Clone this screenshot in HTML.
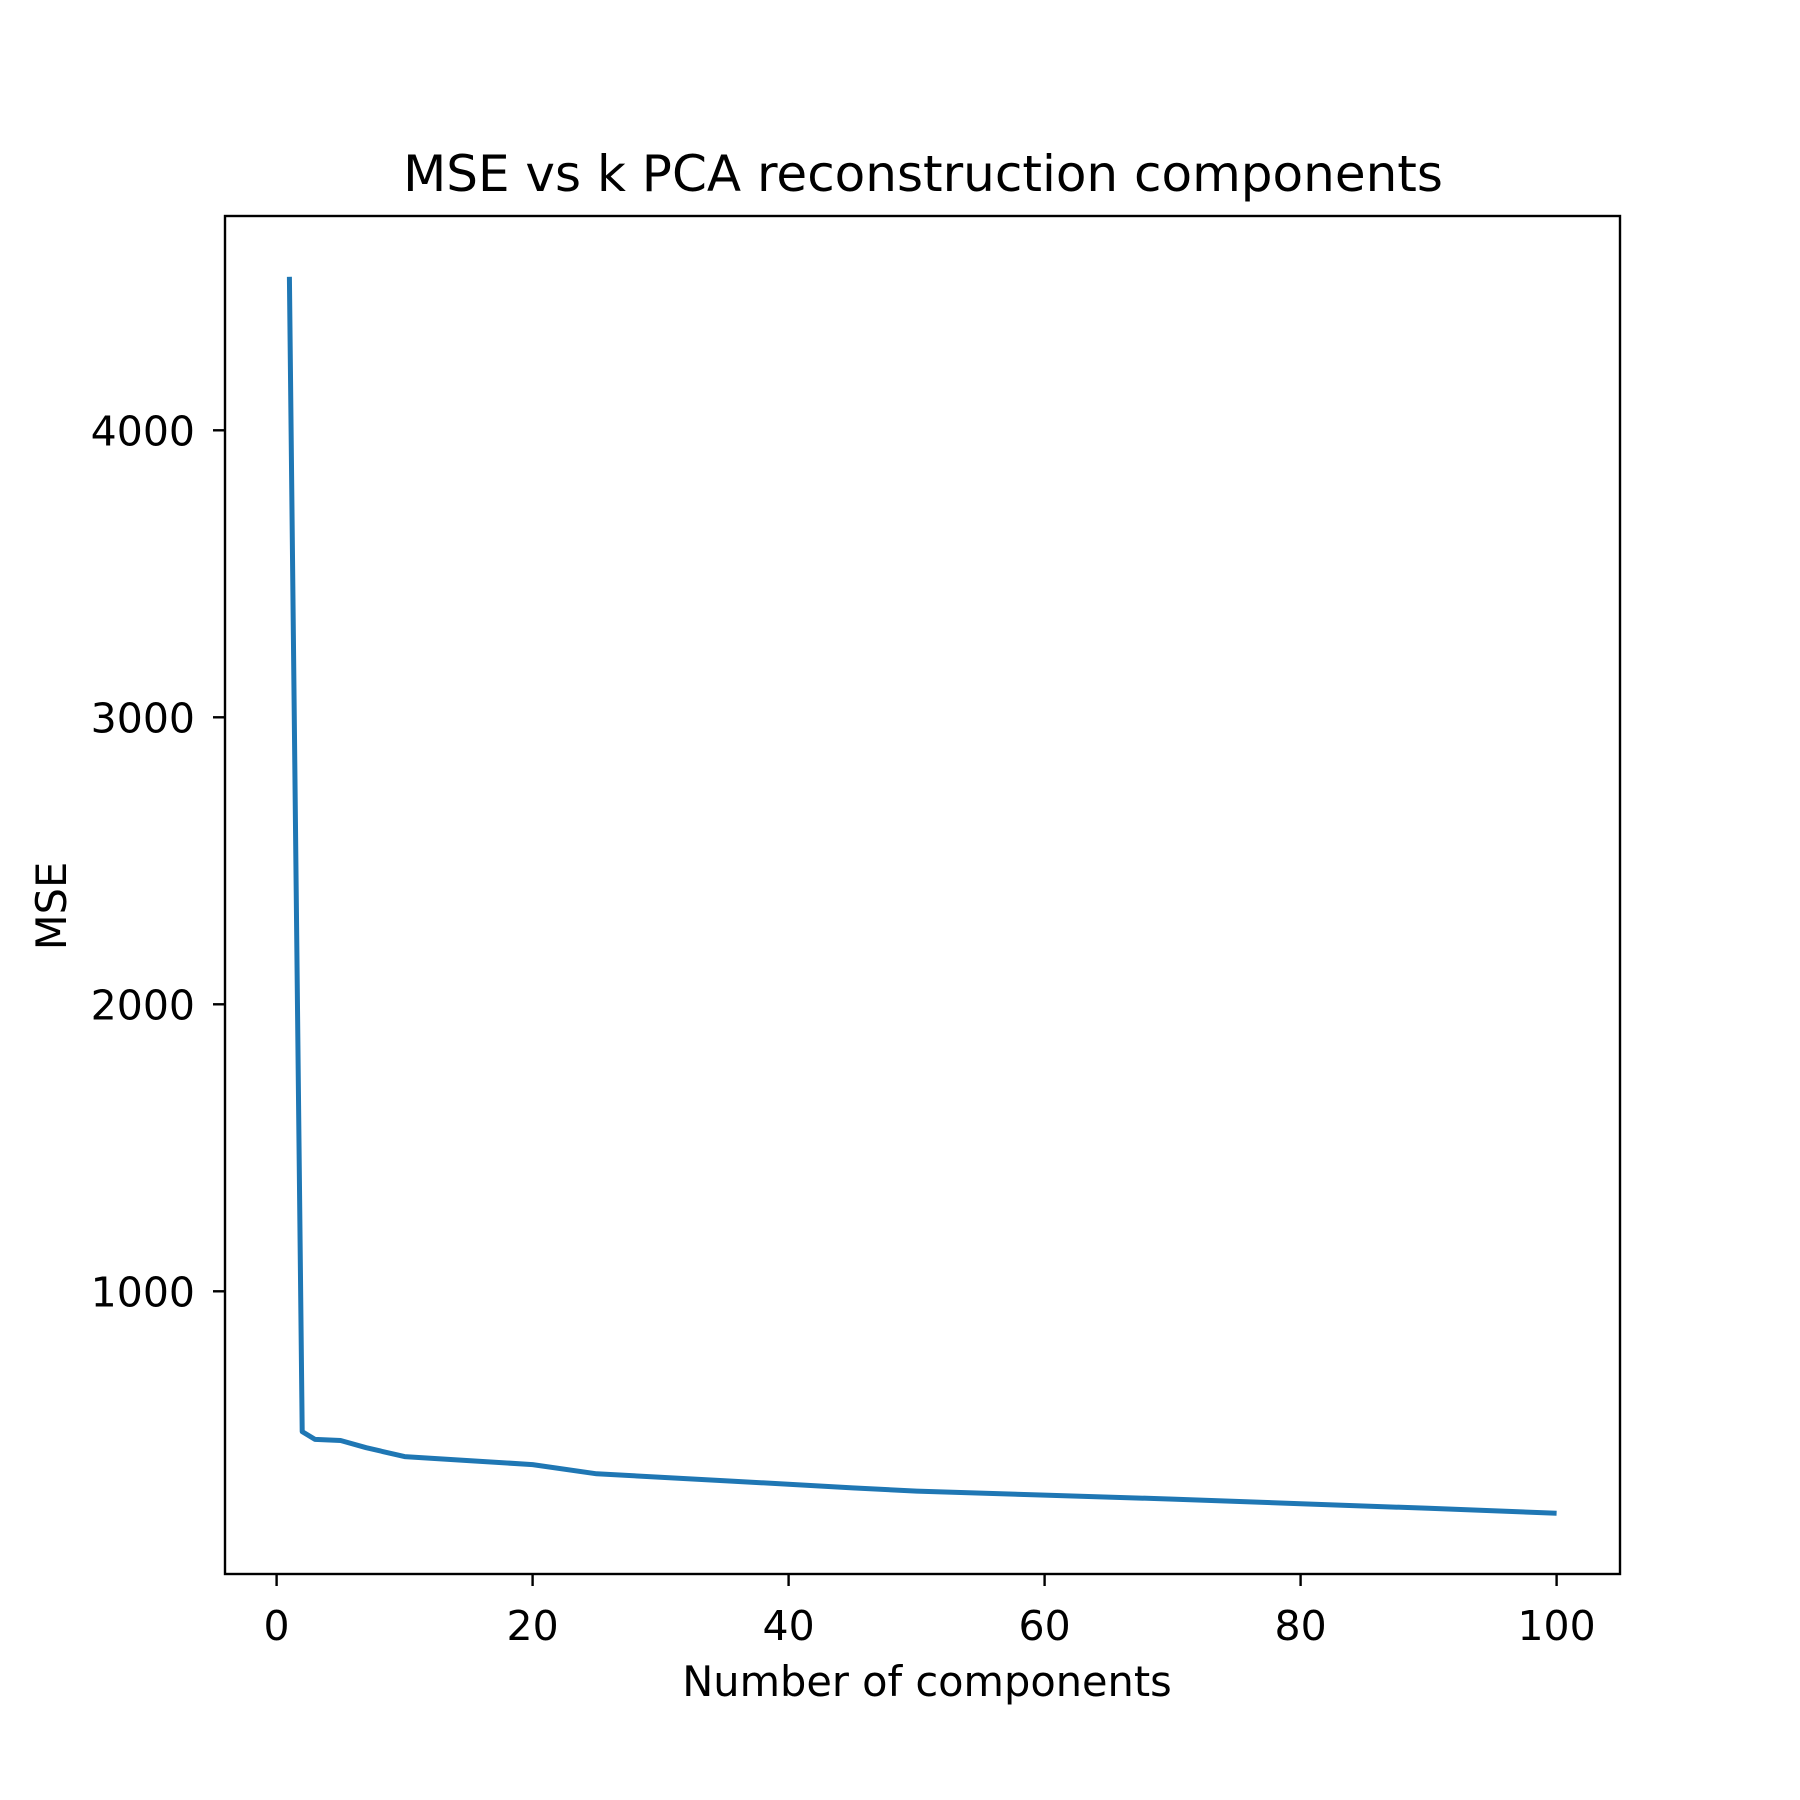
<!DOCTYPE html>
<html><head><meta charset="utf-8"><style>body{margin:0;background:#fff}svg{display:block}text{font-family:"DejaVu Sans","Liberation Sans",sans-serif;fill:#000}</style></head>
<body>
<svg id="chart" width="1800" height="1800" viewBox="0 0 1800 1800" xmlns="http://www.w3.org/2000/svg">
<rect width="1800" height="1800" fill="#fff"/>
<text x="923" y="191" font-size="50" text-anchor="middle">MSE vs k PCA reconstruction components</text>
<g id="plot"></g>
<text x="927" y="1696" font-size="41.5" text-anchor="middle">Number of components</text>
<text transform="translate(66,906) rotate(-90)" font-size="41.5" text-anchor="middle">MSE</text>
</svg>
<script>
const components = [1, 2, 3, 5, 7, 10, 15, 20, 25, 35, 45, 50, 60, 70, 80, 90, 100];
const mseValues = [4535, 511, 484, 480, 455, 424, 410, 396, 364, 340, 315, 304, 290, 276, 260, 244, 227];
const xTicks = [0, 20, 40, 60, 80, 100];
const yTicks = [1000, 2000, 3000, 4000];

const L = 225, R = 1620, T = 216, B = 1574;
const xs = v => 276.6 + 12.8 * v;
const ys = v => 1578.3 - 0.287 * v;
const NS = 'http://www.w3.org/2000/svg';
const g = document.getElementById('plot');
function mk(tag, attrs) { const e = document.createElementNS(NS, tag); for (const k in attrs) e.setAttribute(k, attrs[k]); g.appendChild(e); return e; }

xTicks.forEach(t => {
  const l = mk('line', {x1: xs(t), x2: xs(t), y1: B, y2: B + 12, stroke: '#000', 'stroke-width': 2.4});
  
  
  const tx = mk('text', {x: xs(t), y: 1640, 'font-size': 41, 'text-anchor': 'middle'});
  tx.textContent = t;
  
  
});
yTicks.forEach(t => {
  const l = mk('line', {x1: L - 12, x2: L, y1: ys(t), y2: ys(t), stroke: '#000', 'stroke-width': 2.4});
  
  
  const tx = mk('text', {x: 195, y: ys(t) + 15, 'font-size': 41, 'text-anchor': 'end'});
  tx.textContent = t;
  
  
});
const pts = components.map((c, i) => xs(c).toFixed(1) + ',' + ys(mseValues[i]).toFixed(1)).join(' ');
const line = mk('polyline', {points: pts, fill: 'none', stroke: '#1f77b4', 'stroke-width': 5, 'stroke-linejoin': 'round'});


const frame = mk('rect', {x: L, y: T, width: R - L, height: B - T, fill: 'none', stroke: '#000', 'stroke-width': 2.4});


</script>
</body></html>
